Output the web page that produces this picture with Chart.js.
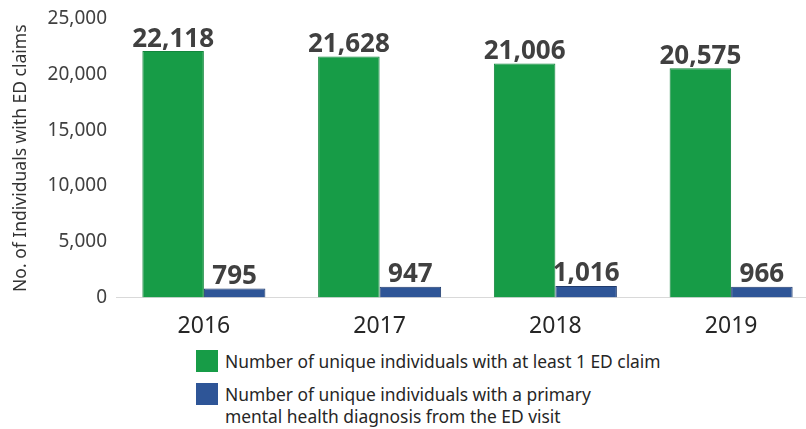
<!DOCTYPE html>
<html>
<head>
<meta charset="utf-8">
<script src="https://cdn.jsdelivr.net/npm/chart.js@4"></script>
<style>
  html, body { margin: 0; padding: 0; width: 806px; height: 429px; overflow: hidden; background: #fff; }
  #wrap { position: absolute; left: 0; top: 0; }
  .legend { position: absolute; left: 196px; font-family: "Noto Sans", sans-serif; font-size: 17.4px; color: #262626; line-height: 22px; }
  .legend .box { position: absolute; left: 0; top: 0; width: 22px; height: 22px; }
  .legend .txt { position: absolute; left: 29px; top: 0; white-space: nowrap; }
</style>
</head>
<body>
<div id="wrap"><canvas id="chart" width="830" height="347"></canvas></div>

<div class="legend" style="top:350px;">
  <div class="box" style="background:#179c47;"></div>
  <div class="txt">Number of unique individuals with at least 1 ED claim</div>
</div>
<div class="legend" style="top:383px;">
  <div class="box" style="background:#2e5597;"></div>
  <div class="txt">Number of unique individuals with a primary<br>mental health diagnosis from the ED visit</div>
</div>

<script>
// ---------------- data ----------------
const years = ['2016', '2017', '2018', '2019'];
const edClaims = [22118, 21628, 21006, 20575];
const mentalHealth = [795, 947, 1016, 966];
const yTicks = [0, 5000, 10000, 15000, 20000, 25000];

// draws the bold numbers above each bar
const valueLabels = {
  id: 'valueLabels',
  afterDatasetsDraw(chart) {
    const ctx = chart.ctx;
    ctx.save();
    ctx.font = 'bold 26px "Noto Sans", sans-serif';
    ctx.fillStyle = '#404040';
    ctx.textAlign = 'center';
    ctx.textBaseline = 'middle';
    chart.data.datasets.forEach(function(ds, i) {
      const meta = chart.getDatasetMeta(i);
      meta.data.forEach(function(bar, j) {
        ctx.fillText(ds.data[j].toLocaleString('en-US'), bar.x, bar.y - 12);
      });
    });
    ctx.restore();
  }
};

let ctx = document.getElementById('chart').getContext('2d');
let myChart = new Chart(ctx, {
  type: 'bar',
  data: {
    labels: years,
    datasets: [{
      label: 'Number of unique individuals with at least 1 ED claim',
      data: edClaims,
      backgroundColor: '#179c47',
      borderColor: '#12863c',
      borderWidth: 1
    }, {
      label: 'Number of unique individuals with a primary mental health diagnosis from the ED visit',
      data: mentalHealth,
      backgroundColor: '#2e5597',
      borderColor: '#1f3a6b',
      borderWidth: 1
    }]
  },
  options: {
    responsive: false,
    animation: false,
    layout: { padding: { top: 19, right: 11, bottom: 0, left: 0 } },
    plugins: {
      legend: { display: false },
      tooltip: { enabled: false }
    },
    datasets: {
      bar: { categoryPercentage: 0.7, barPercentage: 1.0 }
    },
    scales: {
      x: {
        grid: { display: false },
        border: { display: true, color: '#d9d9d9', width: 1 },
        ticks: {
          color: '#262626',
          padding: 7,
          font: { family: '"Noto Sans", sans-serif', size: 23 }
        }
      },
      y: {
        min: 0,
        max: 25000,
        afterBuildTicks: function(scale) {
          scale.ticks = yTicks.map(function(v) { return { value: v }; });
        },
        afterFit: function(scale) { scale.width = 116; },
        grid: { display: false },
        border: { display: false },
        ticks: {
          color: '#404040',
          padding: 1,
          font: { family: '"Noto Sans", sans-serif', size: 19 },
          callback: function(v) { return v.toLocaleString('en-US'); }
        },
        title: {
          display: true,
          text: 'No. of Individuals with ED claims',
          color: '#333333',
          padding: { top: 11, bottom: 0 },
          font: { family: '"Noto Sans", sans-serif', size: 17.5 }
        }
      }
    }
  },
  plugins: [valueLabels]
});
</script>
</body>
</html>
